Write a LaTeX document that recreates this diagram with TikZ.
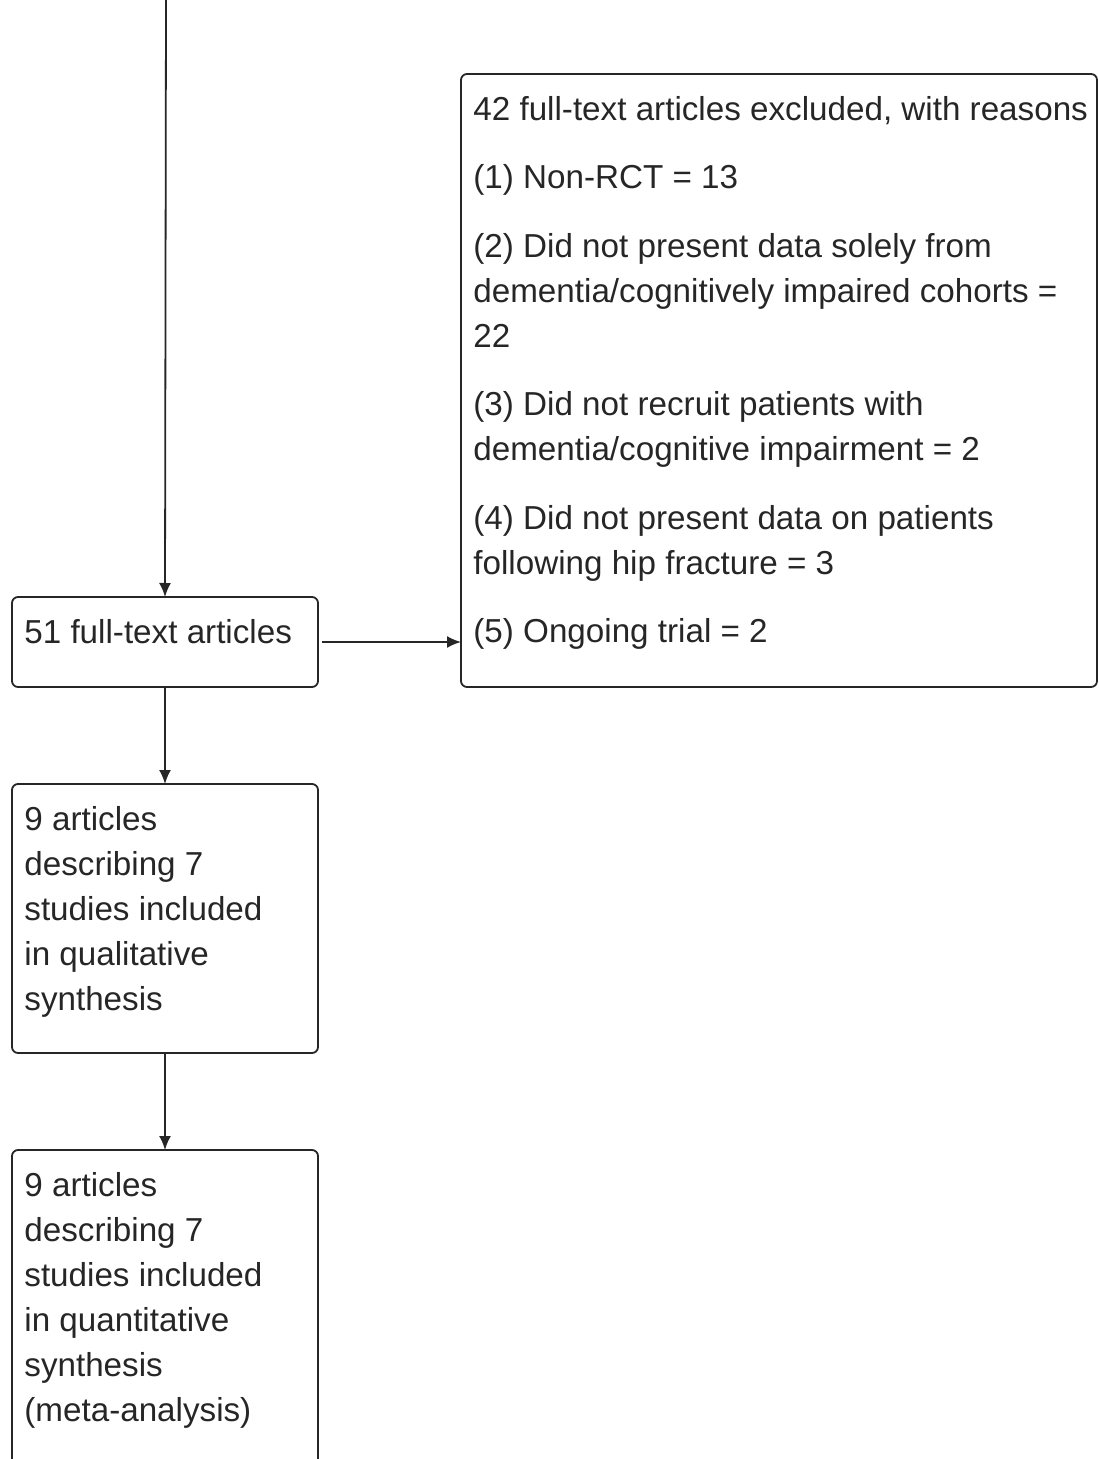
\documentclass[tikz,border=0pt]{standalone}
\usepackage{fontspec}
\setmainfont{Liberation Sans}
\usetikzlibrary{arrows.meta}
\begin{document}
\begin{tikzpicture}[x=0.5pt,y=-0.5pt,
  box/.style={draw=black!85, line width=0.9pt, rounded corners=3pt, inner sep=0pt, outer sep=0pt, anchor=north west},
  txt/.style={anchor=north west, inner sep=0pt, align=left, font=\fontsize{16.6}{22.5}\selectfont, text=black!85},
  arr/.style={-{Latex[length=7pt,width=6pt]}, line width=0.9pt, draw=black!85}]
\useasboundingbox (0,0) rectangle (1098,1459);
\clip (0,0) rectangle (1098,1459);
% boxes
\node[box, minimum width=153pt, minimum height=45pt] (a) at (12,597) {};
\node[box, minimum width=318pt, minimum height=306.5pt] (b) at (461,74) {};
\node[box, minimum width=153pt, minimum height=134.5pt] (c) at (12,784) {};
\node[box, minimum width=153pt, minimum height=200pt] (d) at (12,1150) {};
% texts
\node[txt] (ta) at (24,611.5) {\strut 51 full-text articles};
\node[txt] (tb) at (473,88.5) {\strut 42 full-text articles excluded, with reasons\\[11.75pt]
(1) Non-RCT = 13\\[11.75pt]
(2) Did not present data solely from\\
dementia/cognitively impaired cohorts =\\
22\\[11.75pt]
(3) Did not recruit patients with\\
dementia/cognitive impairment = 2\\[11.75pt]
(4) Did not present data on patients\\
following hip fracture = 3\\[11.75pt]
(5) Ongoing trial = 2};
\node[txt] (tc) at (24,798.5) {\strut 9 articles\\
describing 7\\
studies included\\
in qualitative\\
synthesis};
\node[txt] (td) at (24,1164.5) {\strut 9 articles\\
describing 7\\
studies included\\
in quantitative\\
synthesis\\
(meta-analysis)};
% connectors
\coordinate (top) at (166,-2);
\draw[arr] (top) -- (a.north);
\draw[arr] ([xshift=2pt]a.east) -- (a.east -| b.west);
\draw[arr] (a.south) -- (c.north);
\draw[arr] (c.south) -- (d.north);
\end{tikzpicture}
\end{document}
